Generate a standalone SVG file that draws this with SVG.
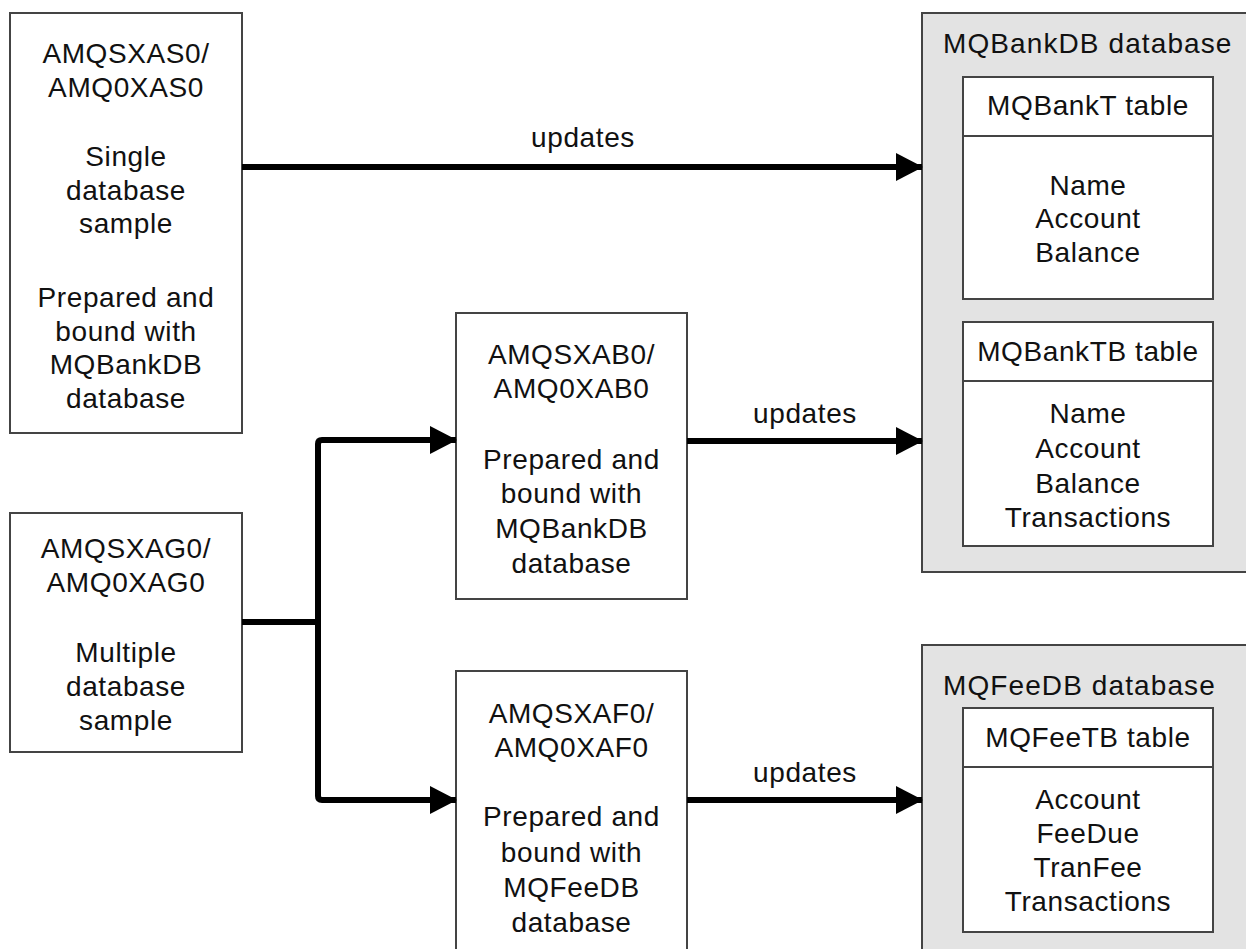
<svg xmlns="http://www.w3.org/2000/svg" width="1246" height="949" viewBox="0 0 1246 949">
<style>
.box{fill:#fff;stroke:#444;stroke-width:2}
.db{fill:#e3e3e3;stroke:#444;stroke-width:2}
.t{font-family:"Liberation Sans",Arial,sans-serif;font-size:28px;fill:#111;text-anchor:middle;letter-spacing:0.6px}
.tl{font-family:"Liberation Sans",Arial,sans-serif;font-size:28px;fill:#111;letter-spacing:1.1px}
.c{fill:none;stroke:#000;stroke-width:6;stroke-linejoin:round}
</style>
<defs>
<marker id="ah" markerUnits="userSpaceOnUse" markerWidth="28" markerHeight="28" refX="26" refY="14" orient="auto">
<path d="M0,0 L27,14 L0,28 Z" fill="#000"/>
</marker>
</defs>
<rect width="1246" height="949" fill="#fff"/>

<g id="mqbankdb">
<rect class="db" x="922" y="13" width="340" height="559"/>
<text class="tl" x="943" y="53">MQBankDB database</text>
<rect class="box" x="963" y="77" width="250" height="222"/>
<line x1="963" y1="136" x2="1213" y2="136" stroke="#444" stroke-width="2"/>
<text class="t" x="1088" y="115">MQBankT table</text>
<text class="t" x="1088" y="195">Name</text>
<text class="t" x="1088" y="228">Account</text>
<text class="t" x="1088" y="262">Balance</text>
<rect class="box" x="963" y="322" width="250" height="224"/>
<line x1="963" y1="381" x2="1213" y2="381" stroke="#444" stroke-width="2"/>
<text class="t" x="1088" y="361">MQBankTB table</text>
<text class="t" x="1088" y="423">Name</text>
<text class="t" x="1088" y="458">Account</text>
<text class="t" x="1088" y="493">Balance</text>
<text class="t" x="1088" y="527">Transactions</text>
</g>

<g id="mqfeedb">
<rect class="db" x="922" y="645" width="340" height="320"/>
<text class="tl" x="943" y="695">MQFeeDB database</text>
<rect class="box" x="963" y="708" width="250" height="224"/>
<line x1="963" y1="767" x2="1213" y2="767" stroke="#444" stroke-width="2"/>
<text class="t" x="1088" y="747">MQFeeTB table</text>
<text class="t" x="1088" y="809">Account</text>
<text class="t" x="1088" y="843">FeeDue</text>
<text class="t" x="1088" y="877">TranFee</text>
<text class="t" x="1088" y="911">Transactions</text>
</g>

<g id="amqsxas0">
<rect class="box" x="10" y="13" width="232" height="420"/>
<text class="t" x="126" y="63">AMQSXAS0/</text>
<text class="t" x="126" y="97">AMQ0XAS0</text>
<text class="t" x="126" y="166">Single</text>
<text class="t" x="126" y="200">database</text>
<text class="t" x="126" y="233">sample</text>
<text class="t" x="126" y="307">Prepared and</text>
<text class="t" x="126" y="341">bound with</text>
<text class="t" x="126" y="374">MQBankDB</text>
<text class="t" x="126" y="408">database</text>
</g>

<g id="amqsxab0">
<rect class="box" x="456" y="313" width="231" height="286"/>
<text class="t" x="571.5" y="364">AMQSXAB0/</text>
<text class="t" x="571.5" y="398">AMQ0XAB0</text>
<text class="t" x="571.5" y="469">Prepared and</text>
<text class="t" x="571.5" y="503">bound with</text>
<text class="t" x="571.5" y="538">MQBankDB</text>
<text class="t" x="571.5" y="573">database</text>
</g>

<g id="amqsxag0">
<rect class="box" x="10" y="513" width="232" height="239"/>
<text class="t" x="126" y="558">AMQSXAG0/</text>
<text class="t" x="126" y="592">AMQ0XAG0</text>
<text class="t" x="126" y="662">Multiple</text>
<text class="t" x="126" y="696">database</text>
<text class="t" x="126" y="730">sample</text>
</g>

<g id="amqsxaf0">
<rect class="box" x="456" y="671" width="231" height="300"/>
<text class="t" x="571.5" y="723">AMQSXAF0/</text>
<text class="t" x="571.5" y="757">AMQ0XAF0</text>
<text class="t" x="571.5" y="826">Prepared and</text>
<text class="t" x="571.5" y="862">bound with</text>
<text class="t" x="571.5" y="897">MQFeeDB</text>
<text class="t" x="571.5" y="932">database</text>
</g>

<g id="connectors">
<path class="c" d="M242,167 H922" marker-end="url(#ah)"/>
<text class="t" x="583" y="147">updates</text>
<path class="c" d="M242,622 H318"/>
<path class="c" d="M318,622 V444 Q318,440 322,440 H456" marker-end="url(#ah)"/>
<path class="c" d="M318,622 V796 Q318,800 322,800 H456" marker-end="url(#ah)"/>
<path class="c" d="M687,441 H922" marker-end="url(#ah)"/>
<text class="t" x="805" y="423">updates</text>
<path class="c" d="M687,800 H922" marker-end="url(#ah)"/>
<text class="t" x="805" y="782">updates</text>
</g>
</svg>
